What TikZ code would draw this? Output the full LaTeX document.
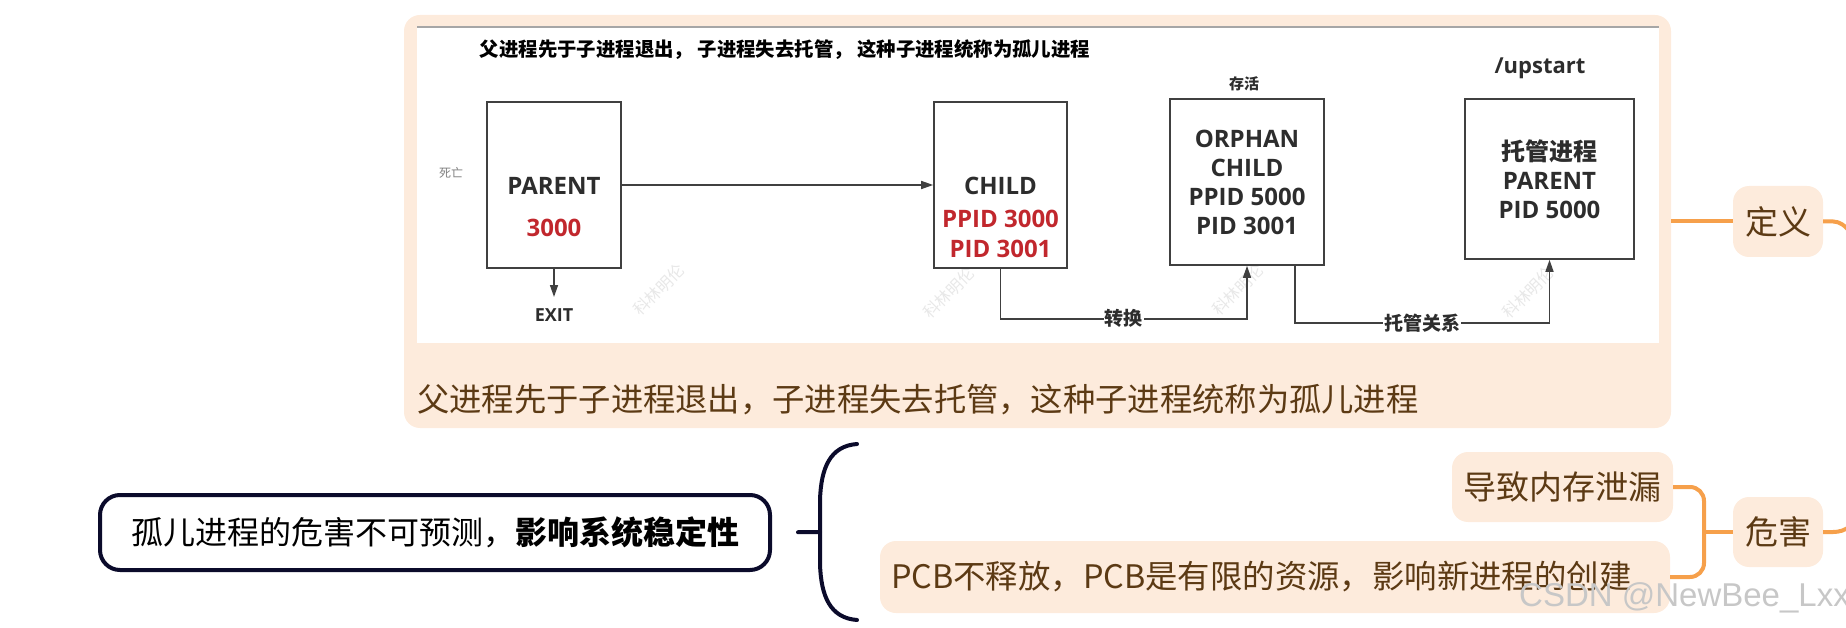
\documentclass[tikz,border=0pt]{standalone}
\usepackage{fontspec}
\setmainfont{Open Sans}
\newfontfamily\cjk{Noto Sans CJK SC}
\newfontfamily\wmfont{Liberation Sans}
\usetikzlibrary{arrows.meta}
\usetikzlibrary{calc}
\definecolor{peach}{HTML}{FDEBDC}
\definecolor{mmorange}{HTML}{F6A04B}
\definecolor{mmtext}{HTML}{5C3A14}
\definecolor{navy}{HTML}{0B0B2B}
\definecolor{redtxt}{HTML}{C1272D}
\definecolor{linegray}{HTML}{404040}
\begin{document}
\begin{tikzpicture}[x=1pt,y=-1pt,
  procbox/.style={draw=linegray,line width=1.6pt,inner sep=0pt},
  boxtxt/.style={inner sep=0pt,align=center,text=linegray!70!black,font=\bfseries\fontsize{24}{29}\selectfont},
  arr/.style={draw=linegray,line width=1.5pt,-{Triangle[length=12pt,width=8pt]}},
  lbl/.style={fill=white,inner sep=1pt,text=linegray!70!black,font=\cjk\bfseries\fontsize{19}{19}\selectfont},
  mmnode/.style={fill=peach,rounded corners=16pt,inner sep=0pt,text=mmtext,font=\cjk\fontsize{33}{33}\selectfont},
  mmline/.style={draw=mmorange,line width=4pt},
  navyline/.style={draw=navy,line width=4pt,line cap=round},
  faint/.style={rotate=45,text=black!9,font=\cjk\fontsize{16}{16}\selectfont}]
  \useasboundingbox (0,0) rectangle (1846,628);
  % definition block with the picture
  \node[fill=peach,rounded corners=16pt,minimum width=1267pt,minimum height=413pt] (defbox) at (1037.5,221.5) {};
  \fill[white] (417,27) rectangle (1659,343);
  \draw[gray!70,line width=1.2pt] (417,27) -- (1659,27);
  \foreach \mx/\my [count=\i] in {659/290,949/293,1238/290,1528/293}
    \node[faint] (mark\i) at (\mx,\my) {科林明伦};
  \node[text=black,font=\cjk\bfseries\fontsize{19.4}{19.4}\selectfont] (title) at (785,50)
    {父进程先于子进程退出， 子进程失去托管， 这种子进程统称为孤儿进程};
  \node[text=gray,font=\cjk\fontsize{12}{12}\selectfont] (dead) at (451,173) {死亡};
  \node[procbox,minimum width=134pt,minimum height=166pt] (parent) at (554,185) {};
  \node[boxtxt] (ptxt) at (554,186) {PARENT};
  \node[boxtxt,text=redtxt] (pnum) at (554,228) {3000};
  \node[boxtxt,font=\bfseries\fontsize{18}{18}\selectfont] (exit) at (554,315) {EXIT};
  \node[procbox,minimum width=133pt,minimum height=166pt] (child) at (1000.5,185) {};
  \node[boxtxt] (ctxt) at (1000.5,186) {CHILD};
  \node[boxtxt,text=redtxt] (cppid) at (1000.5,219) {PPID 3000};
  \node[boxtxt,text=redtxt] (cpid) at (1000.5,249) {PID 3001};
  \node[procbox,boxtxt,minimum width=154pt,minimum height=166pt] (orphan) at (1247,182)
    {ORPHAN\\CHILD\\PPID 5000\\PID 3001};
  \node[boxtxt,font=\cjk\bfseries\fontsize{15}{15}\selectfont] (alive) at (1244,84) {存活};
  \node[procbox,boxtxt,minimum width=169pt,minimum height=160pt] (tg) at (1549.5,179)
    {{\cjk 托管进程}\\PARENT\\PID 5000};
  \node[boxtxt,font=\bfseries\fontsize{22}{22}\selectfont] (upstart) at (1540,68) {/upstart};
  \draw[arr] (parent.east) -- (child.west);
  \draw[arr] (parent.south) -- ([yshift=18pt]exit.center);
  \draw[arr] (child.south) -- ++(0,50) -| node[lbl,pos=0.25] (conv) {转换} (orphan.south);
  \draw[arr] ([xshift=48pt]orphan.south) -- ++(0,57) -| node[lbl,pos=0.25] (adopt) {托管关系} (tg.south);
  \node[anchor=west,inner sep=0pt,text=mmtext,font=\cjk\fontsize{32.3}{32.3}\selectfont] (deftxt) at (417,400)
    {父进程先于子进程退出，子进程失去托管，这种子进程统称为孤儿进程};
  % mind map
  \node[mmnode,minimum width=90pt,minimum height=71pt] (dy) at (1778,221.5) {定义};
  \node[mmnode,minimum width=90pt,minimum height=70pt] (wh) at (1778,532) {危害};
  \node[mmnode,minimum width=221pt,minimum height=70pt] (dz) at (1562.5,487) {导致内存泄漏};
  \node[mmnode,minimum width=790pt,minimum height=72pt,text width=768pt,align=left,inner xsep=11pt,
    font=\cjk\fontsize{32.4}{32.4}\selectfont] (pcb) at (1275,577)
    {PCB不释放，PCB是有限的资源，影响新进程的创建};
  \coordinate (fork) at (1704,532);
  \coordinate (rootA) at (1858,258);
  \coordinate (rootB) at (1858,505);
  \draw[mmline] (defbox.east) -- (dy.west);
  \draw[mmline] (dy.east) -- ++(10,0) .. controls +(12,0) and +(0,-20) .. (rootA);
  \draw[mmline] (wh.east) -- ++(10,0) .. controls +(12,0) and +(0,20) .. (rootB);
  \draw[mmline,rounded corners=14pt] (dz.east) -| (fork) |- (pcb.east);
  \draw[mmline] (fork) -- (wh.west);
  \node[draw=navy,line width=4pt,rounded corners=20pt,minimum width=670pt,minimum height=75pt,
    text=black,font=\cjk\fontsize{32}{32}\selectfont] (harm) at (435,532.5)
    {孤儿进程的危害不可预测，{\bfseries 影响系统稳定性}};
  \coordinate (bmid) at (820,532);
  \draw[navyline] (857,444) .. controls (830,446) and (821,468) .. (820,500) -- (820,564)
    .. controls (821,596) and (830,618) .. (857,620);
  \draw[navyline,shorten <=26pt] (harm.east) -- (bmid);
  \node[anchor=west,inner sep=0pt,text=black!22,font=\wmfont\fontsize{33}{33}\selectfont] (csdn) at (1519,598)
    {CSDN @NewBee\_Lxx};
\end{tikzpicture}
\end{document}
